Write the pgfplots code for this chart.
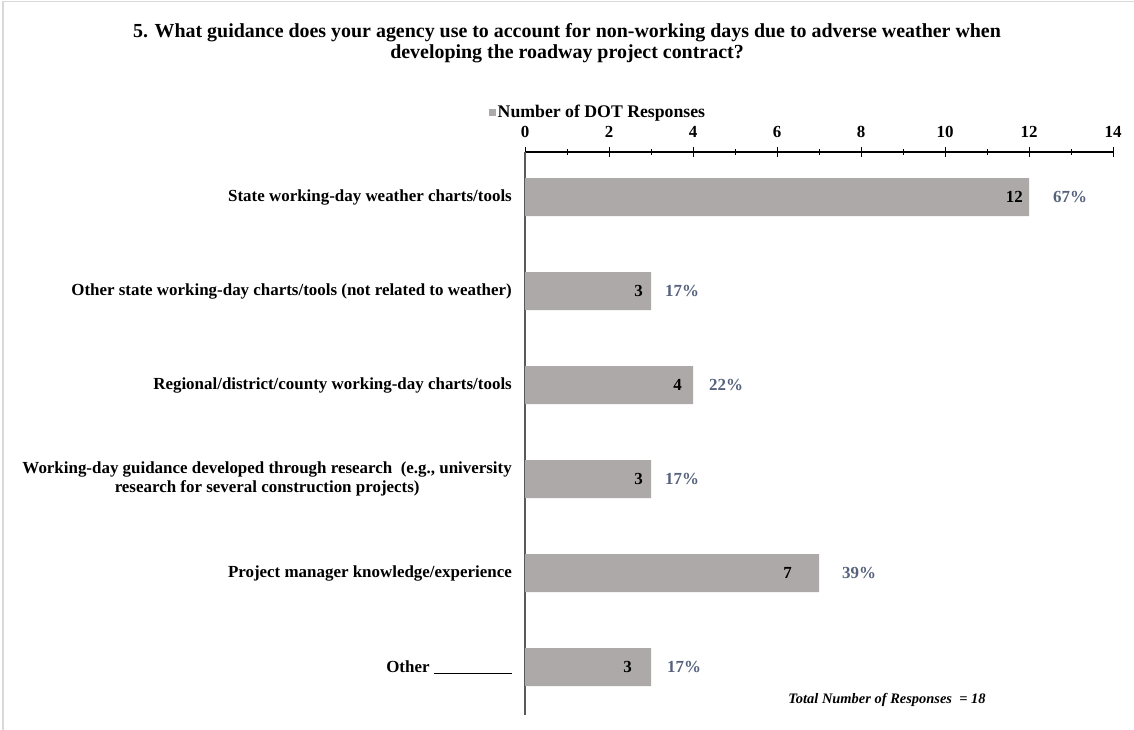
\documentclass[border=0pt]{standalone}
\usepackage{pgfplots}
\pgfplotsset{compat=1.18}
\usepackage{pgfplotstable}
\usepackage{fontspec}
\setmainfont{Liberation Serif}
\definecolor{barcol}{RGB}{173,169,168}
\definecolor{pctcol}{RGB}{86,98,124}
\definecolor{framecol}{RGB}{217,217,217}
\pgfplotstableread{
y val pct ish psh
0 12 67 6 24
1 3 17 8 14
2 4 22 11 16
3 3 17 8 14
4 7 39 27 23
5 3 17 19 16
}\datatable
\begin{document}
\begin{tikzpicture}[x=1bp,y=1bp]
\useasboundingbox (0,0) rectangle (1134,730);
\draw[framecol,line width=1.5bp] (3,0) -- (3,728.5) -- (1134,728.5);
\node[font=\bfseries\fontsize{20}{20.5}\selectfont,align=center] at (567,687)
 {5. What guidance does your agency use to account for non-working days due to adverse weather when\\developing the roadway project contract?};
\begin{axis}[
  at={(525bp,15bp)}, anchor=south west,
  scale only axis, width=588bp, height=563bp,
  xmin=0, xmax=14, ymin=-0.48, ymax=5.51, y dir=reverse,
  axis x line=top, axis y line=left,
  x axis line style={-, black, line width=1.2bp},
  y axis line style={-, black!65, line width=1.6bp},
  xtick={0,2,...,14}, minor xtick={1,3,...,13},
  major tick length=10bp, minor tick length=6bp, tick align=center,
  x tick style={black, line width=1bp},
  y tick style={draw=none},
  /pgf/number format/assume math mode=true,
  ytick={0,1,2,3,4,5},
  yticklabels={State working-day weather charts/tools,
    Other state working-day charts/tools (not related to weather),
    Regional/district/county working-day charts/tools,
    {Working-day guidance developed through research~ (e.g., university\\research for several construction projects)},
    Project manager knowledge/experience,
    {Other \rule[-1.5bp]{78bp}{0.8bp}}},
  yticklabel style={font=\bfseries\fontsize{17}{19.5}\selectfont, align=center, inner sep=0pt, xshift=-3bp},
  xticklabel style={font=\bfseries\fontsize{17}{19}\selectfont, yshift=5.5bp},
  xbar, bar width=38bp, bar shift=0pt,
  legend style={draw=none, at={(axis description cs:-0.062,1.071)}, anchor=west,
     font=\bfseries\fontsize{17.8}{19}\selectfont, inner sep=0pt},
  legend image code/.code={\fill[barcol] (0bp,-3.5bp) rectangle (7bp,3.5bp);},
  clip=false,
]
\addplot[fill=barcol, draw=none,
  visualization depends on={\thisrow{ish} \as \ish},
  point meta=explicit symbolic,
  nodes near coords={\pgfplotspointmeta},
  every node near coord/.append style={anchor=east, xshift=-\ish bp, inner sep=0pt,
     font=\bfseries\fontsize{17}{19}\selectfont, text=black}]
  table[x=val, y=y, meta=val] {\datatable};
\addlegendentry{Number of DOT Responses}
\addplot[draw=none, fill=none, forget plot,
  visualization depends on={\thisrow{psh} \as \psh},
  point meta=explicit symbolic,
  nodes near coords={\pgfplotspointmeta\%},
  every node near coord/.append style={anchor=west, xshift=\psh bp, inner sep=0pt,
     font=\bfseries\fontsize{17}{19}\selectfont, text=pctcol}]
  table[x=val, y=y, meta=pct] {\datatable};
\end{axis}
\node[font=\bfseries\itshape\fontsize{14.5}{16}\selectfont] at (887,30)
 {Total Number of Responses ~= 18};
\end{tikzpicture}
\end{document}
